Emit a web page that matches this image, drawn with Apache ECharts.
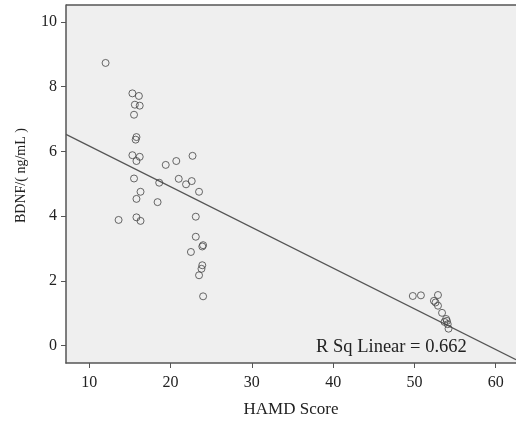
<!DOCTYPE html>
<html>
<head>
<meta charset="utf-8">
<script src="https://cdn.jsdelivr.net/npm/echarts@6/dist/echarts.min.js"></script>
<style>
  html, body { margin: 0; padding: 0; background: #fff; }
  #chart { width: 516px; height: 423px; }
</style>
</head>
<body>
<div id="chart"></div>
<script>
// HAMD score vs BDNF
const hamd = [
  12.0, 15.3, 16.1, 15.6, 16.2, 15.5, 15.8, 15.7, 15.3, 16.2, 15.8,
  19.4, 20.7, 22.7, 15.5, 18.6, 21.0, 21.9, 22.6, 23.5, 16.3,
  13.6, 15.8, 16.3, 15.8, 18.4, 23.1, 23.1, 24.0, 23.9, 22.5, 23.9, 23.8, 23.5, 24.0,
  49.8, 50.8, 52.9, 52.4, 52.6, 52.9, 53.4, 53.9, 54.0, 53.7, 54.1, 54.2
];
const bdnf = [
  8.73, 7.79, 7.71, 7.44, 7.41, 7.13, 6.44, 6.36, 5.88, 5.83, 5.70,
  5.58, 5.70, 5.86, 5.16, 5.03, 5.15, 4.98, 5.08, 4.75, 4.75,
  3.88, 3.96, 3.85, 4.53, 4.43, 3.98, 3.36, 3.10, 3.06, 2.89, 2.48, 2.37, 2.17, 1.52,
  1.53, 1.55, 1.56, 1.38, 1.33, 1.23, 1.01, 0.82, 0.76, 0.73, 0.66, 0.52
];

// fitted line y = a + b*x
const fitA = 7.42;
const fitB = -0.1257;
const xMin = 7.13, xMax = 62.5;
const yMin = -0.54, yMax = 10.52;
const xTicks = [10, 20, 30, 40, 50, 60];
const yTicks = [0, 2, 4, 6, 8, 10];

const chart = echarts.init(document.getElementById('chart'));

const font = '"Liberation Serif", "DejaVu Serif", serif';

const option = {
  animation: false,
  grid: {
    left: 66, right: 0, top: 5, bottom: 60,
    show: true,
    backgroundColor: '#efefef',
    borderWidth: 0
  },
  xAxis: {
    type: 'value',
    min: xMin, max: xMax,
    name: 'HAMD Score',
    nameLocation: 'middle',
    nameGap: 38,
    nameTextStyle: { fontFamily: font, fontSize: 17, color: '#222' },
    axisLine: { show: true, onZero: false, lineStyle: { color: '#555', width: 1.5 } },
    axisTick: { show: true, length: 5, lineStyle: { color: '#555' },
      customValues: xTicks },
    axisLabel: { fontFamily: font, fontSize: 16, color: '#222', margin: 12,
      customValues: xTicks },
    splitLine: { show: false }
  },
  yAxis: {
    type: 'value',
    min: yMin, max: yMax,
    axisLine: { show: true, onZero: false, lineStyle: { color: '#555', width: 1.5 } },
    axisTick: { show: true, length: 5, lineStyle: { color: '#555' },
      customValues: yTicks },
    axisLabel: { fontFamily: font, fontSize: 16, color: '#222', margin: 9,
      customValues: yTicks },
    splitLine: { show: false }
  },
  series: [
    {
      type: 'scatter',
      data: hamd.map((x, i) => [x, bdnf[i]]),
      symbol: 'circle',
      symbolSize: 7,
      itemStyle: { color: 'rgba(0,0,0,0)', borderColor: '#444', borderWidth: 1 },
      z: 3
    },
    {
      type: 'line',
      data: [[xMin, fitA + fitB * xMin], [xMax, fitA + fitB * xMax]],
      symbol: 'none',
      lineStyle: { color: '#555', width: 1.2 },
      clip: true,
      z: 2
    }
  ]
};

chart.setOption(option);

// y title, top border and R Sq label
const p = chart.convertToPixel({ gridIndex: 0 }, [47.5, 0]);
chart.setOption({
  graphic: [
    {
      type: 'text',
      x: 14, y: 223,
      rotation: Math.PI / 2,
      style: { text: 'BDNF/( ng/mL )', fontFamily: font, fontSize: 14, fill: '#222' }
    },
    {
      type: 'line',
      shape: { x1: 66, y1: 5, x2: 516, y2: 5 },
      style: { stroke: '#555', lineWidth: 1.5 }
    },
    {
      type: 'text',
      x: p[0] - 78, y: p[1] - 8,
      style: { text: 'R Sq Linear = 0.662', fontFamily: font, fontSize: 18.5, fill: '#222' }
    }
  ]
});
</script>
</body>
</html>
